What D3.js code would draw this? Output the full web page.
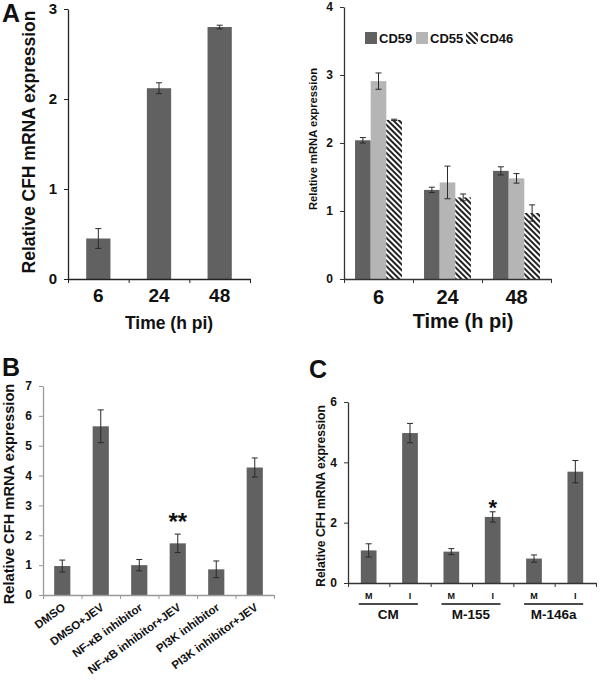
<!DOCTYPE html>
<html>
<head>
<meta charset="utf-8">
<style>
  body { margin: 0; background: #fff; }
  svg text { font-family: "Liberation Sans", Arial, sans-serif; font-weight: bold; fill: #111; }
</style>
</head>
<body>
<div class="chart"></div>
<script src="https://d3js.org/d3.v7.min.js"></script>
<script>
// panel A left: CFH over time
const timeLabels = ["6", "24", "48"];
const cfhTime = [0.45, 2.12, 2.80];
const cfhTimeErr = [0.11, 0.06, 0.02];

// panel A right: regulators
const regSeries = ["CD59", "CD55", "CD46"];
const cd59 = [2.04, 1.31, 1.59];
const cd59Err = [0.04, 0.04, 0.06];
const cd55 = [2.91, 1.42, 1.48];
const cd55Err = [0.12, 0.24, 0.07];
const cd46 = [2.34, 1.20, 0.97];
const cd46Err = [0.01, 0.05, 0.12];

// panel B: inhibitors
const treatLabels = ["DMSO", "DMSO+JEV", "NF-κB inhibitor", "NF-κB inhibitor+JEV", "PI3K inhibitor", "PI3K inhibitor+JEV"];
const cfhTreat = [0.97, 5.65, 1.00, 1.73, 0.86, 4.27];
const cfhTreatErr = [0.20, 0.55, 0.19, 0.31, 0.28, 0.32];
const treatStars = ["", "", "", "**", "", ""];

// panel C: microglia
const mirLabels = ["M", "I", "M", "I", "M", "I"];
const mirGroups = ["CM", "M-155", "M-146a"];
const cfhMir = [1.08, 4.97, 1.04, 2.19, 0.81, 3.69];
const cfhMirErr = [0.22, 0.32, 0.10, 0.17, 0.12, 0.37];
const mirStars = ["", "", "", "*", "", ""];

const W = 600, H = 680;
const barColor = "#616161";

const svg = d3.select(".chart").append("svg")
  .attr("width", W).attr("height", H);

const defs = svg.append("defs");
const hatch = defs.append("pattern")
  .attr("id", "hatch")
  .attr("patternUnits", "userSpaceOnUse")
  .attr("width", 4).attr("height", 4)
  .attr("patternTransform", "rotate(-45)");
hatch.append("rect").attr("width", 4).attr("height", 4).attr("fill", "#fff");
hatch.append("rect").attr("width", 2).attr("height", 4).attr("fill", "#222");

const seriesFill = { CD59: "#616161", CD55: "#b5b5b5", CD46: "url(#hatch)" };

function panelLetter(txt, x, y) {
  svg.append("text").attr("x", x).attr("y", y)
    .style("font-size", "25px").text(txt);
}

// y axis + boundary ticks on x axis
function axes(g, y, x0, x1, n, yTicks, tickFont, axisColor) {
  const yAxis = g.append("g")
    .attr("transform", `translate(${x0},0)`)
    .call(d3.axisLeft(y).tickValues(yTicks).tickFormat(d3.format("d"))
      .tickSize(4).tickSizeOuter(0).tickPadding(7));
  yAxis.selectAll("text").style("font-size", tickFont + "px").attr("fill", "#111");
  const xb = d3.scaleLinear().domain([0, n]).range([x0, x1]);
  const xAxis = g.append("g")
    .attr("transform", `translate(0,${y(0)})`)
    .call(d3.axisBottom(xb).tickValues(d3.range(n + 1)).tickFormat("").tickSize(4).tickSizeOuter(0));
  [yAxis, xAxis].forEach(a => {
    a.select(".domain").attr("stroke", axisColor).attr("stroke-width", 1.3);
    a.selectAll(".tick line").attr("stroke", axisColor);
  });
}

function errorBars(g, xs, y, vals, errs) {
  const cap = 3;
  vals.forEach((v, i) => {
    const cx = xs[i];
    const e = g.append("g").attr("stroke", "#2a2a2a").attr("stroke-width", 1);
    e.append("line").attr("x1", cx).attr("x2", cx).attr("y1", y(v + errs[i])).attr("y2", y(v - errs[i]));
    e.append("line").attr("x1", cx - cap).attr("x2", cx + cap).attr("y1", y(v + errs[i])).attr("y2", y(v + errs[i]));
    e.append("line").attr("x1", cx - cap).attr("x2", cx + cap).attr("y1", y(v - errs[i])).attr("y2", y(v - errs[i]));
  });
}

function yTitle(txt, x, yc, size) {
  svg.append("text")
    .attr("transform", `translate(${x},${yc}) rotate(-90)`)
    .attr("text-anchor", "middle")
    .style("font-size", size + "px")
    .text(txt);
}

// ---------- Panel A left ----------
(function () {
  const g = svg.append("g");
  const x0 = 68, x1 = 250;
  const y = d3.scaleLinear().domain([0, 3]).range([279, 9]);
  const x = d3.scaleBand().domain(d3.range(timeLabels.length)).range([x0, x1])
    .paddingInner(0.6).paddingOuter(0.3);
  g.selectAll("rect").data(cfhTime).join("rect")
    .attr("x", (d, i) => x(i)).attr("y", d => y(d))
    .attr("width", x.bandwidth()).attr("height", d => y(0) - y(d))
    .attr("fill", barColor);
  errorBars(g, cfhTime.map((d, i) => x(i) + x.bandwidth() / 2), y, cfhTime, cfhTimeErr);
  axes(g, y, x0, x1, timeLabels.length, [0, 1, 2, 3], 15, "#222");
  g.selectAll(".xl").data(timeLabels).join("text")
    .attr("x", (d, i) => x(i) + x.bandwidth() / 2).attr("y", 302)
    .attr("text-anchor", "middle").style("font-size", "19px").text(d => d);
  svg.append("text").attr("x", (x0 + x1) / 2 + 10).attr("y", 329)
    .attr("text-anchor", "middle").style("font-size", "17.5px").text("Time (h pi)");
  yTitle("Relative CFH mRNA expression", 35, 142, 17.5);
  panelLetter("A", 2, 22);
})();

// ---------- Panel A right ----------
(function () {
  const g = svg.append("g");
  const x0 = 344, x1 = 551;
  const y = d3.scaleLinear().domain([0, 4]).range([279, 7]);
  const x = d3.scaleBand().domain(d3.range(timeLabels.length)).range([x0, x1])
    .paddingInner(0.32).paddingOuter(0.16);
  const xs = d3.scaleBand().domain(regSeries).range([0, x.bandwidth()]);
  const vals = { CD59: cd59, CD55: cd55, CD46: cd46 };
  const errs = { CD59: cd59Err, CD55: cd55Err, CD46: cd46Err };
  regSeries.forEach(s => {
    g.append("g").selectAll("rect").data(vals[s]).join("rect")
      .attr("x", (d, i) => x(i) + xs(s)).attr("y", d => y(d))
      .attr("width", xs.bandwidth()).attr("height", d => y(0) - y(d))
      .attr("fill", seriesFill[s]);
  });
  regSeries.forEach(s => {
    errorBars(g, vals[s].map((d, i) => x(i) + xs(s) + xs.bandwidth() / 2), y, vals[s], errs[s]);
  });
  axes(g, y, x0, x1, timeLabels.length, [0, 1, 2, 3, 4], 12, "#333");
  g.selectAll(".xl").data(timeLabels).join("text")
    .attr("x", (d, i) => x(i) + x.bandwidth() / 2).attr("y", 304)
    .attr("text-anchor", "middle").style("font-size", "20px").text(d => d);
  svg.append("text").attr("x", 463).attr("y", 328)
    .attr("text-anchor", "middle").style("font-size", "20px").text("Time (h pi)");
  yTitle("Relative mRNA expression", 317, 139, 11.2);
  // legend
  const legX = [365, 416, 466];
  regSeries.forEach((s, i) => {
    svg.append("rect").attr("x", legX[i]).attr("y", 32).attr("width", 12).attr("height", 12)
      .attr("fill", seriesFill[s]);
    svg.append("text").attr("x", legX[i] + 14).attr("y", 43)
      .style("font-size", "13px").text(s);
  });
})();

// ---------- Panel B ----------
(function () {
  const g = svg.append("g");
  const x0 = 43, x1 = 274;
  const y = d3.scaleLinear().domain([0, 7]).range([595, 386]);
  const x = d3.scaleBand().domain(d3.range(treatLabels.length)).range([x0, x1])
    .paddingInner(0.58).paddingOuter(0.29);
  g.selectAll("rect").data(cfhTreat).join("rect")
    .attr("x", (d, i) => x(i)).attr("y", d => y(d))
    .attr("width", x.bandwidth()).attr("height", d => y(0) - y(d))
    .attr("fill", barColor);
  const cxs = cfhTreat.map((d, i) => x(i) + x.bandwidth() / 2);
  errorBars(g, cxs, y, cfhTreat, cfhTreatErr);
  axes(g, y, x0, x1, treatLabels.length, d3.range(8), 12, "#999");
  g.selectAll(".xl").data(treatLabels).join("text")
    .attr("transform", (d, i) => `translate(${cxs[i] + 4},${609}) rotate(-36)`)
    .attr("text-anchor", "end").style("font-size", "11.5px").text(d => d);
  g.selectAll(".star").data(treatStars).join("text")
    .attr("x", (d, i) => cxs[i]).attr("y", (d, i) => y(cfhTreat[i] + cfhTreatErr[i]) - 4)
    .attr("text-anchor", "middle").style("font-size", "24px").text(d => d);
  yTitle("Relative CFH mRNA expression", 14, 494, 14.7);
  panelLetter("B", 2, 376);
})();

// ---------- Panel C ----------
(function () {
  const g = svg.append("g");
  const x0 = 348, x1 = 596;
  const y = d3.scaleLinear().domain([0, 6]).range([583, 402]);
  const x = d3.scaleBand().domain(d3.range(mirLabels.length)).range([x0, x1])
    .paddingInner(0.62).paddingOuter(0.31);
  g.selectAll("rect").data(cfhMir).join("rect")
    .attr("x", (d, i) => x(i)).attr("y", d => y(d))
    .attr("width", x.bandwidth()).attr("height", d => y(0) - y(d))
    .attr("fill", barColor);
  const cxs = cfhMir.map((d, i) => x(i) + x.bandwidth() / 2);
  errorBars(g, cxs, y, cfhMir, cfhMirErr);
  axes(g, y, x0, x1, mirLabels.length, [0, 2, 4, 6], 12, "#333");
  g.selectAll(".xl").data(mirLabels).join("text")
    .attr("x", (d, i) => cxs[i]).attr("y", 599)
    .attr("text-anchor", "middle").style("font-size", "9px").text(d => d);
  mirGroups.forEach((gr, k) => {
    const a = x(2 * k) - 2, b = x(2 * k + 1) + x.bandwidth();
    g.append("line").attr("x1", a).attr("x2", b).attr("y1", 604).attr("y2", 604)
      .attr("stroke", "#111").attr("stroke-width", 1.6);
    g.append("text").attr("x", (a + b) / 2).attr("y", 619)
      .attr("text-anchor", "middle").style("font-size", "13.5px").text(gr);
  });
  g.selectAll(".star").data(mirStars).join("text")
    .attr("x", (d, i) => cxs[i]).attr("y", (d, i) => y(cfhMir[i] + cfhMirErr[i]) + 3)
    .attr("text-anchor", "middle").style("font-size", "22px").text(d => d);
  yTitle("Relative CFH mRNA expression", 325, 496, 12.1);
  panelLetter("C", 309, 378);
})();
</script>
</body>
</html>
